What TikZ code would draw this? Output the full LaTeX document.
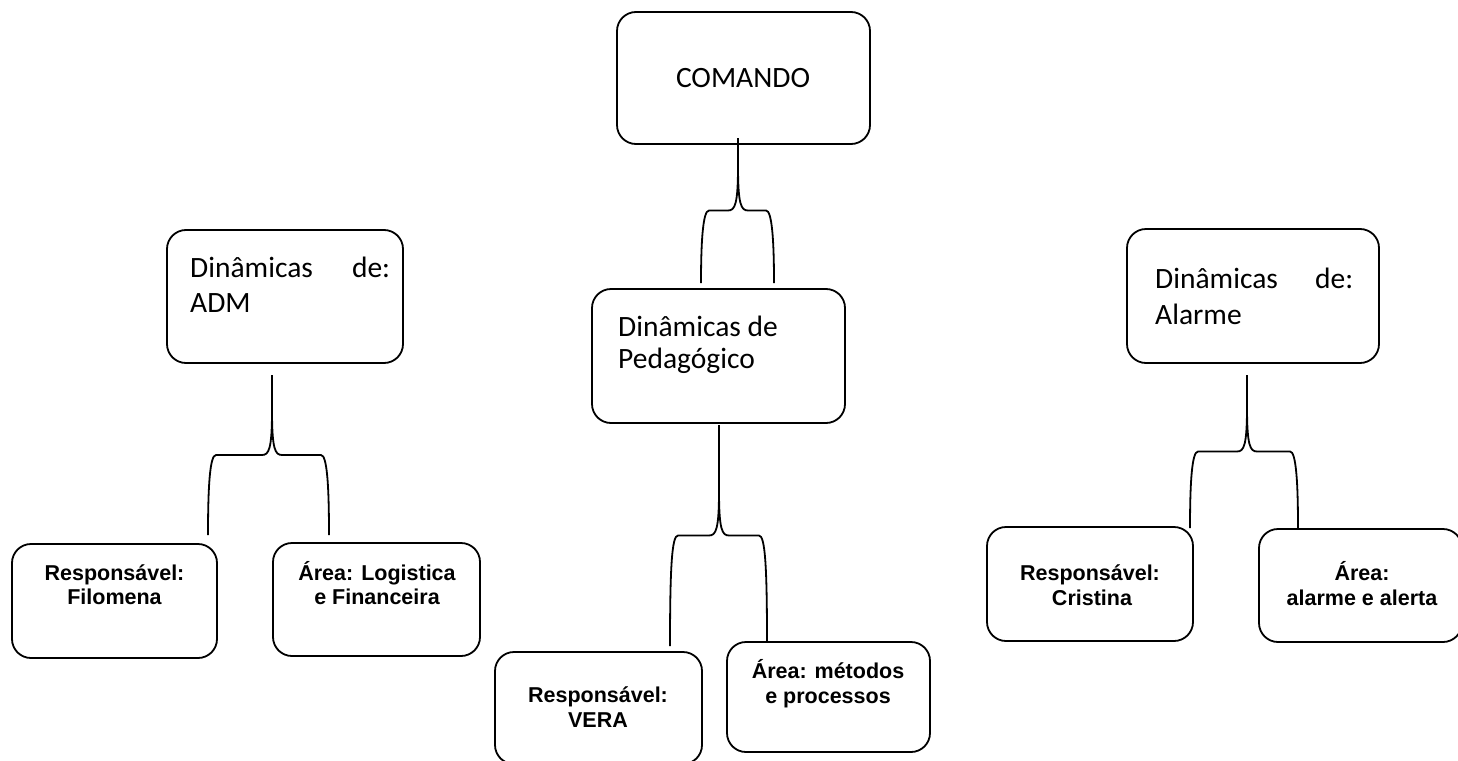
\documentclass[tikz,border=0pt]{standalone}
\usepackage{fontspec}
\setmainfont{Carlito}
\newfontfamily\boldsans{Liberation Sans}
\usetikzlibrary{calc}
\tikzset{
  box/.style={draw, line width=1.8pt, rounded corners=19pt, inner sep=0pt},
  bigtxt/.style={font=\fontsize{29.5}{34}\selectfont, inner sep=0pt},
  smalltxt/.style={font=\boldsans\bfseries\fontsize{21.5}{25}\selectfont, inner sep=0pt, anchor=base},
  bracel/.style={draw, line width=1.8pt},
}
\newcommand\treebrace[3]{%
  \path (#1) -- coordinate[midway] (bm) (#2);
  \coordinate (bc) at (#1 |- bm);
  \coordinate (bl) at (#2 |- bm);
  \coordinate (br) at (#3 |- bm);
  \draw[bracel] (#1) -- ($(bc)+(0,-45)$)
     .. controls ($(bc)+(0,-6)$) and ($(bc)+(-3,0)$) .. ($(bc)+(-10,0)$)
     -- ($(bl)+(8,0)$)
     .. controls ($(bl)+(2,0)$) and ($(bl)+(0,30)$) .. (#2);
  \draw[bracel] ($(bc)+(0,-45)$)
     .. controls ($(bc)+(0,-6)$) and ($(bc)+(3,0)$) .. ($(bc)+(10,0)$)
     -- ($(br)+(-8,0)$)
     .. controls ($(br)+(-2,0)$) and ($(br)+(0,30)$) .. (#3);
}
\begin{document}
\begin{tikzpicture}[x=1pt,y=-1pt]
\useasboundingbox (0,0) rectangle (1458,760);
% boxes
\node[box, minimum width=253pt, minimum height=132pt] (cmd) at (743.5,78) {};
\node[box, minimum width=253pt, minimum height=134pt] (ped) at (718.5,356) {};
\node[box, minimum width=236pt, minimum height=133pt] (adm) at (285,296.5) {};
\node[box, minimum width=252pt, minimum height=134pt] (alm) at (1253,296) {};
\node[box, minimum width=205pt, minimum height=114pt] (fil) at (114.5,601) {};
\node[box, minimum width=207pt, minimum height=113pt] (log) at (376.5,599.5) {};
\node[box, minimum width=207pt, minimum height=112pt] (vera) at (598.5,708) {};
\node[box, minimum width=203pt, minimum height=110pt] (met) at (828.5,697) {};
\node[box, minimum width=206pt, minimum height=114pt] (cri) at (1090,584) {};
\node[box, minimum width=203pt, minimum height=113pt] (ale) at (1360.5,585.5) {};
% texts
\node[bigtxt, anchor=base] (tcmd) at (743,88) {COMANDO};
\node[bigtxt, anchor=base west, text width=200pt] (tadm1) at (190,277) {Dinâmicas\hfill de:};
\node[bigtxt, anchor=base west] (tadm2) at (190,312) {ADM};
\node[bigtxt, anchor=base west, text width=198pt] (talm1) at (1155,288) {Dinâmicas\hfill de:};
\node[bigtxt, anchor=base west] (talm2) at (1155,324) {Alarme};
\node[bigtxt, anchor=base west] (tped1) at (618,336) {Dinâmicas de};
\node[bigtxt, anchor=base west] (tped2) at (618,368) {Pedagógico};
\node[smalltxt] (tfil1) at (114.5,580) {Responsável:};
\node[smalltxt] (tfil2) at (114.5,604) {Filomena};
\node[smalltxt] (tlog1) at (377,580) {Área: Logistica};
\node[smalltxt] (tlog2) at (377,604) {e Financeira};
\node[smalltxt] (tver1) at (598,702) {Responsável:};
\node[smalltxt] (tver2) at (598,727) {VERA};
\node[smalltxt] (tmet1) at (828,678) {Área: métodos};
\node[smalltxt] (tmet2) at (828,703) {e processos};
\node[smalltxt] (tcri1) at (1090,580) {Responsável:};
\node[smalltxt] (tcri2) at (1092,605) {Cristina};
\node[smalltxt] (tale1) at (1362,580) {Área:};
\node[smalltxt] (tale2) at (1362,605) {alarme e alerta};
% brace end points
\coordinate (b1t) at (738,138);
\coordinate (b1l) at (701,283);
\coordinate (b1r) at (774,283);
\coordinate (b2t) at (272,375);
\coordinate (b2l) at (208,535);
\coordinate (b2r) at (329,535);
\coordinate (b3t) at (719,425);
\coordinate (b3l) at (670,646);
\coordinate (b3r) at (767,641);
\coordinate (b4t) at (1247,375);
\coordinate (b4l) at (1190,528);
\coordinate (b4r) at (1298,528);
\treebrace{b1t}{b1l}{b1r}
\treebrace{b2t}{b2l}{b2r}
\treebrace{b3t}{b3l}{b3r}
\treebrace{b4t}{b4l}{b4r}
\end{tikzpicture}
\end{document}
